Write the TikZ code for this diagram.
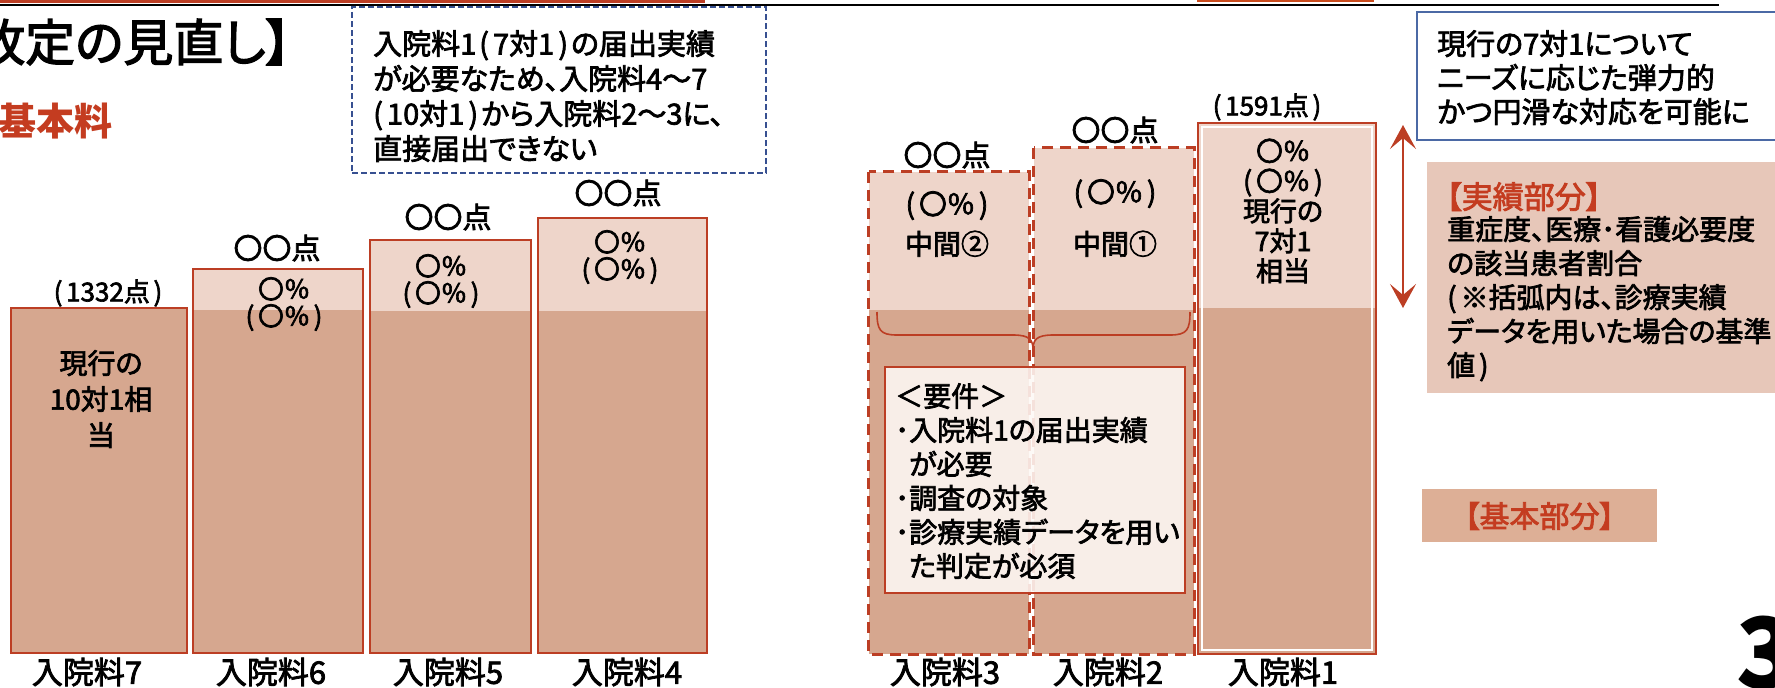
\documentclass[tikz,border=0pt]{standalone}
\usepackage{fontspec}
\setmainfont{Noto Sans CJK JP}[RawFeature=+palt, UprightFeatures={FakeBold=2.5}]
\usetikzlibrary{fit,arrows.meta}
\definecolor{barDark}{RGB}{214,167,143}
\definecolor{barLight}{RGB}{238,213,202}
\definecolor{barLine}{RGB}{188,62,36}
\definecolor{redText}{RGB}{196,60,32}
\definecolor{pinkBox}{RGB}{231,199,185}
\definecolor{kihonBox}{RGB}{221,175,150}
\definecolor{navyLine}{RGB}{55,80,145}
\definecolor{blueLine}{RGB}{75,105,165}
\definecolor{reqFill}{RGB}{253,248,245}
\newcommand{\jlp}{(\hspace{.14em}}
\newcommand{\jrp}{\hspace{.14em})}
\tikzset{
  barbody/.style={fill=barDark, draw=none, inner sep=0pt},
  lighttop/.style={fill=barLight, draw=none, inner sep=0pt},
  solidborder/.style={draw=barLine, line width=2pt},
  dashborder/.style={draw=barLine, line width=3pt, dash pattern=on 11pt off 7pt},
  txt/.style={inner sep=0pt, align=center, font=\fontsize{28}{34}\selectfont},
  pct/.style={inner sep=0pt, align=center, font=\fontsize{26}{27}\selectfont},
  pts/.style={inner sep=0pt, font=\fontsize{29}{34}\selectfont},
  barlabel/.style={inner sep=0pt, font=\fontsize{31}{34}\selectfont},
  boxtext/.style={inner sep=0pt, align=left, anchor=north west},
}
\begin{document}
\begin{tikzpicture}[x=1pt,y=-1pt]
\useasboundingbox (0,0) rectangle (1775,688);
% top rules
\fill[barLine] (0,0) rectangle (705,3);
\fill[barLine!80!orange] (1197,0) rectangle (1374,2);
\draw[black, line width=2pt] (0,4.5) -- (1719,4.5);

% title
\node[inner sep=0pt, anchor=west, font=\fontsize{50}{54}\selectfont] (title) at (-25,42) {改定の見直し】};
\node[inner sep=0pt, anchor=west, text=redText, font=\fontsize{38}{40}\selectfont\bfseries] (kihon) at (-2,121) {基本料};

% dashed note box
\node[draw=navyLine, dash pattern=on 6pt off 3pt, line width=1.5pt, inner sep=0pt, fit={(352,7) (766,173)}] (note) {};
\node[boxtext, font=\fontsize{29}{35}\selectfont] (notetext) at (373,30)
  {入院料1\hspace{.1em}\jlp 7対1\jrp\hspace{.1em}の届出実績\\が必要なため、入院料4～7\\\jlp 10対1\jrp\hspace{.1em}から入院料2～3に、\\直接届出できない};

% ---------- left group of bars ----------
\node[barbody, fit={(11,308) (187,653)}] (b7) {};
\draw[solidborder] (b7.north west) rectangle (b7.south east);

\node[barbody, fit={(193,269) (363,653)}] (b6) {};
\node[lighttop, fit={(193,269) (363,310)}] (b6t) {};
\draw[solidborder] (b6.north west) rectangle (b6.south east);

\node[barbody, fit={(370,240) (531,653)}] (b5) {};
\node[lighttop, fit={(370,240) (531,311)}] (b5t) {};
\draw[solidborder] (b5.north west) rectangle (b5.south east);

\node[barbody, fit={(538,218) (707,653)}] (b4) {};
\node[lighttop, fit={(538,218) (707,311)}] (b4t) {};
\draw[solidborder] (b4.north west) rectangle (b4.south east);

% labels above
\node[pts, font=\fontsize{26}{30}\selectfont] (p7) at (108,293) {\jlp 1332点\jrp};
\node[pts] (p6) at (277,248) {〇〇点};
\node[pts] (p5) at (448,217) {〇〇点};
\node[pts] (p4) at (618,193) {〇〇点};

% text inside bars
\node[txt, font=\fontsize{28}{36}\selectfont] (t7) at (101,399) {現行の\\10対1相\\当};
\node[pct] (t6) at (284,304) {〇％\\\jlp 〇％\jrp};
\node[pct] (t5) at (441,281) {〇％\\\jlp 〇％\jrp};
\node[pct] (t4) at (620,257) {〇％\\\jlp 〇％\jrp};

% labels below
\node[barlabel] (l7) at (87,672) {入院料7};
\node[barlabel] (l6) at (271,672) {入院料6};
\node[barlabel] (l5) at (448,672) {入院料5};
\node[barlabel] (l4) at (627,672) {入院料4};

% ---------- right group of bars ----------
\node[barbody, fit={(869,172) (1029,654)}] (b3) {};
\node[lighttop, fit={(869,172) (1029,310)}] (b3t) {};
\node[barbody, fit={(1034,148) (1194,654)}] (b2) {};
\node[lighttop, fit={(1034,148) (1194,310)}] (b2t) {};
\node[barbody, fit={(1198,123) (1376,654)}] (b1) {};
\node[lighttop, fit={(1198,123) (1376,308)}] (b1t) {};
\draw[white, line width=1.5pt] ([shift={(4,4)}]b1.north west) rectangle ([shift={(-4,-4)}]b1.south east);
\draw[solidborder] (b1.north west) rectangle (b1.south east);
\draw[dashborder] (b3.north west) rectangle (b3.south east);
\draw[dashborder] (b2.north west) rectangle (b2.south east);

% brace
\draw[barLine, line width=1.6pt]
  (877,312) .. controls (877,330) and (880,335) .. (897,335) -- (1013,335)
  .. controls (1030,335) and (1033,340) .. (1033,350)
  .. controls (1033,340) and (1036,335) .. (1053,335) -- (1170,335)
  .. controls (1187,335) and (1190,330) .. (1190,312);

% requirement box
\node[fill=reqFill, fill opacity=0.88, draw=barLine, draw opacity=1, line width=1.6pt, inner sep=0pt, fit={(885,367) (1185,593)}] (req) {};
\node[boxtext, font=\fontsize{28}{34}\selectfont] (reqtext) at (895,383)
  {＜要件＞\\･入院料1の届出実績\\\phantom{･}が必要\\･調査の対象\\･診療実績データを用い\\\phantom{･}た判定が必須};

% labels above right group
\node[pts] (p3) at (947,155) {〇〇点};
\node[pts] (p2) at (1115,130) {〇〇点};
\node[pts, font=\fontsize{26}{30}\selectfont] (p1) at (1267,107) {\jlp 1591点\jrp};

\node[txt] (t3) at (947,224) {\jlp 〇％\jrp\\[6pt]中間②};
\node[txt] (t2) at (1115,218) {\jlp 〇％\jrp\\[18pt]中間①};
\node[txt, font=\fontsize{27}{30}\selectfont] (t1) at (1283,211) {〇％\\\jlp 〇％\jrp\\現行の\\7対1\\相当};

\node[barlabel] (l3) at (945,672) {入院料3};
\node[barlabel] (l2) at (1108,672) {入院料2};
\node[barlabel] (l1) at (1283,672) {入院料1};

% ---------- right explanations ----------
\node[draw=blueLine, line width=1.5pt, inner sep=0pt, fit={(1417,12) (1800,140)}] (flex) {};
\node[boxtext, font=\fontsize{29}{34}\selectfont] (flextext) at (1437,30)
  {現行の7対1について\\ニーズに応じた弾力的\\かつ円滑な対応を可能に};

\coordinate (arrT) at (1403,125);
\coordinate (arrB) at (1403,308);
\draw[barLine, line width=1.6pt, {Stealth[length=24pt,width=26pt,inset=11pt]}-{Stealth[length=24pt,width=26pt,inset=11pt]}] (arrT) -- (arrB);

\node[fill=pinkBox, inner sep=0pt, fit={(1427,162) (1800,393)}] (jisseki) {};
\node[boxtext, text=redText, font=\fontsize{31}{34}\selectfont] (jissekititle) at (1446,182) {【実績部分】};
\node[boxtext, font=\fontsize{28}{34}\selectfont] (jissekitext) at (1447,216)
  {重症度、医療･看護必要度\\の該当患者割合\\\jlp ※括弧内は、診療実績\\データを用いた場合の基準\\値\jrp};

\node[fill=kihonBox, inner sep=0pt, minimum width=235pt, minimum height=53pt] (kihonbox) at (1539.5,515.5) {};
\node[inner sep=0pt, text=redText, font=\fontsize{30}{34}\selectfont] (kihontext) at (1539.5,516) {【基本部分】};

\node[inner sep=0pt, anchor=base west, font=\fontsize{98}{100}\selectfont\bfseries] (pagenum) at (1736,688) {3};
\end{tikzpicture}
\end{document}
